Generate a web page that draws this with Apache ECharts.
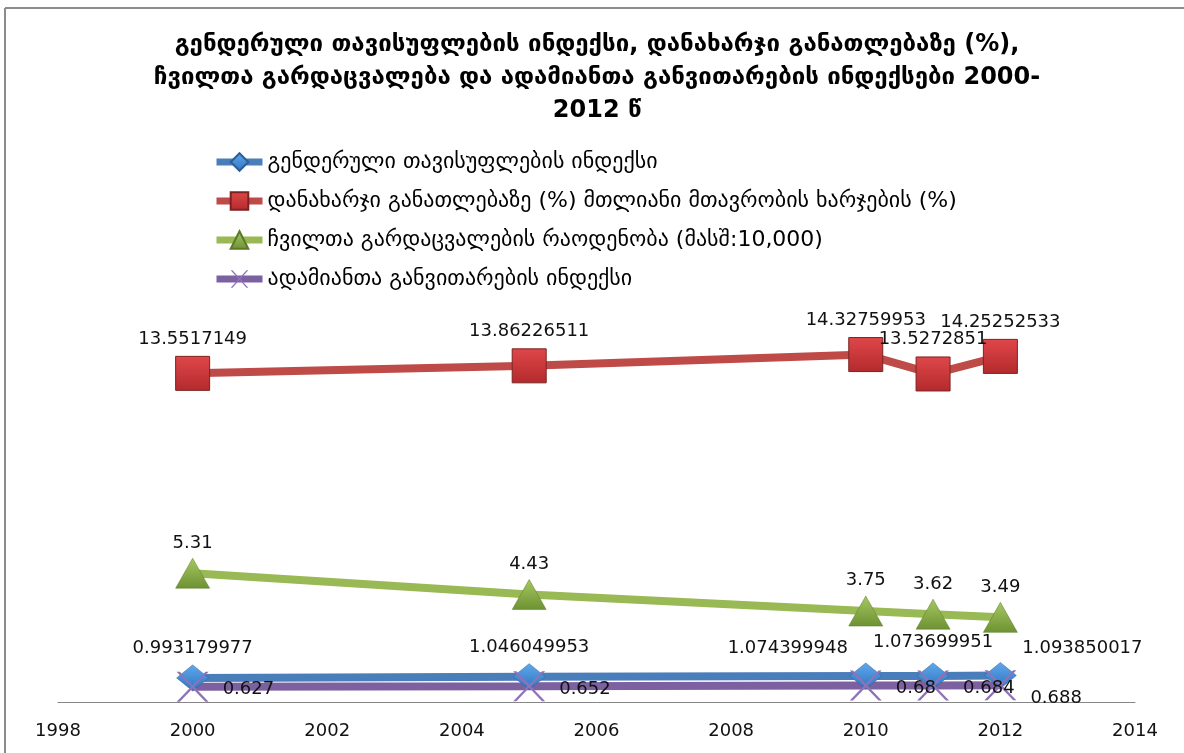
<!DOCTYPE html>
<html><head><meta charset="utf-8">
<script src="https://cdn.jsdelivr.net/npm/echarts@6/dist/echarts.min.js"></script>
<style>html,body{margin:0;padding:0;background:#fff}#c{width:1184px;height:753px}</style>
</head><body><div id="c"></div>
<script>
const years = [2000, 2005, 2010, 2011, 2012];
const genderIndex = [0.993179977, 1.046049953, 1.074399948, 1.073699951, 1.093850017];
const eduSpending = [13.5517149, 13.86226511, 14.32759953, 13.5272851, 14.25252533];
const infantDeaths = [5.31, 4.43, 3.75, 3.62, 3.49];
const hdi = [0.627, 0.652, 0.68, 0.684, 0.688];
const xTicks = [1998, 2014, 2];
const seriesNames = [
  'გენდერული თავისუფლების ინდექსი',
  'დანახარჯი განათლებაზე (%) მთლიანი მთავრობის ხარჯების (%)',
  'ჩვილთა გარდაცვალების რაოდენობა (მასშ:10,000)',
  'ადამიანთა განვითარების ინდექსი'
];
const titleText = 'გენდერული თავისუფლების ინდექსი, დანახარჯი განათლებაზე (%),\nჩვილთა გარდაცვალება და ადამიანთა განვითარების ინდექსები 2000-\n2012 წ';

// label layout (styling only)
const blueLabelOffsets = [[0,3],[0,3],[-78,5],[0,-1],[82,5]];
const purpleLabelOffsets = [[0,3],[0,3],[0,3],[0,3],[0,13]];

const labelFont = {fontFamily:'DejaVu Sans', fontSize:18, color:'#111'};

function pts(vals, offsets){
  return vals.map((v,i)=>{
    const d = {value:[years[i], v]};
    if (offsets) d.label = {offset: offsets[i]};
    return d;
  });
}

const chart = echarts.init(document.getElementById('c'));
chart.setOption({
  animation:false,
  backgroundColor:'#fff',
  title:{
    text:titleText, left:592, top:23, textAlign:'center',
    textStyle:{fontFamily:'DejaVu Sans', fontWeight:'bold', fontSize:24, lineHeight:33, color:'#000', align:'center'}
  },
  legend:{
    orient:'vertical', left:213, top:151, padding:0, itemWidth:46, itemHeight:22, itemGap:17,
    lineStyle:{width:7},
    textStyle:{fontFamily:'DejaVu Sans', fontSize:22, lineHeight:22, color:'#000'},
    data:seriesNames
  },
  grid:{left:58, right:49, top:314, bottom:51},
  xAxis:{
    type:'value', min:xTicks[0], max:xTicks[1], interval:xTicks[2],
    axisLine:{lineStyle:{color:'#868686', width:1}},
    axisTick:{show:false}, splitLine:{show:false},
    axisLabel:{margin:20, fontFamily:'DejaVu Sans', fontSize:18, color:'#111', formatter:v=>String(v)}
  },
  yAxis:{type:'value', min:0, max:16, show:false, splitLine:{show:false}},
  graphic:[
    {type:'line', shape:{x1:5, y1:8, x2:1184, y2:8}, style:{stroke:'#8c8c8c', lineWidth:2}},
    {type:'line', shape:{x1:5, y1:8, x2:5, y2:753}, style:{stroke:'#8c8c8c', lineWidth:2}}
  ],
  series:[
    {
      name:seriesNames[0], type:'line', data:pts(genderIndex, blueLabelOffsets),
      symbol:'diamond', symbolSize:[32,26],
      lineStyle:{color:'#4A7EBB', width:8},
      itemStyle:{color:new echarts.graphic.LinearGradient(0,0,0,1,[{offset:0,color:'#5FA8EC'},{offset:1,color:'#2F74C0'}]), borderColor:'#2E5E95', borderWidth:0.5},
      label:{show:true, position:'top', distance:10, ...labelFont}
    },
    {
      name:seriesNames[1], type:'line', data:pts(eduSpending),
      symbol:'rect', symbolSize:34,
      lineStyle:{color:'#BE4B48', width:8},
      itemStyle:{color:new echarts.graphic.LinearGradient(0,0,0,1,[{offset:0,color:'#E0474A'},{offset:1,color:'#B32A2C'}]), borderColor:'#7A2422', borderWidth:1},
      label:{show:true, position:'top', distance:8, ...labelFont}
    },
    {
      name:seriesNames[2], type:'line', data:pts(infantDeaths),
      symbol:'triangle', symbolSize:[34,30],
      lineStyle:{color:'#98B954', width:8},
      itemStyle:{color:new echarts.graphic.LinearGradient(0,0,0,1,[{offset:0,color:'#A6C862'},{offset:1,color:'#6E9132'}]), borderColor:'#5A7A2A', borderWidth:0.5},
      label:{show:true, position:'top', distance:6, ...labelFont}
    },
    {
      name:seriesNames[3], type:'line', data:pts(hdi, purpleLabelOffsets),
      symbol:'path://M0,0 L2,0 L10,8 L18,0 L20,0 L11,9 L20,18 L18,18 L10,10 L2,18 L0,18 L9,9 Z', symbolSize:[32,30],
      lineStyle:{color:'#7D60A0', width:8},
      itemStyle:{color:'#8F72B8'},
      label:{show:true, position:'right', distance:14, ...labelFont}
    }
  ]
});
</script></body></html>
